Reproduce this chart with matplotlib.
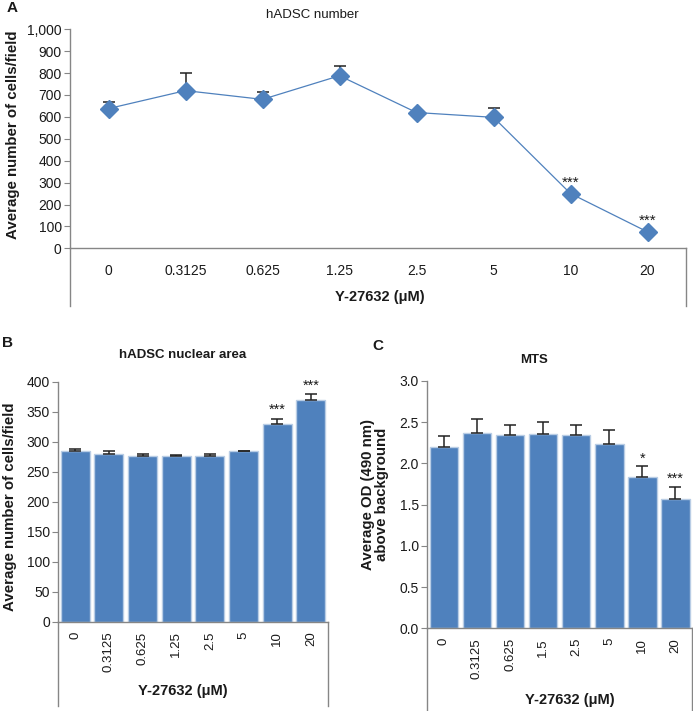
import numpy as np
import matplotlib
matplotlib.use("Agg")
import matplotlib.pyplot as plt
from matplotlib.ticker import FuncFormatter

plt.rcParams["font.family"] = ["Liberation Sans", "DejaVu Sans"]

# Panel A - hADSC number (line)
conc_a = ["0", "0.3125", "0.625", "1.25", "2.5", "5", "10", "20"]
cells_a = [638, 720, 680, 788, 620, 598, 250, 75]
err_a = [32, 80, 32, 44, 8, 44, 6, 6]
stars_a = ["", "", "", "", "", "", "***", "***"]

# Panel B - hADSC nuclear area (bars)
conc_b = ["0", "0.3125", "0.625", "1.25", "2.5", "5", "10", "20"]
area_b = [284, 279, 277, 275.5, 277, 284, 329, 369]
err_b = [4, 5, 3, 2.5, 3, 1, 9, 10]
stars_b = ["", "", "", "", "", "", "***", "***"]

# Panel C - MTS (bars)
conc_c = ["0", "0.3125", "0.625", "1.5", "2.5", "5", "10", "20"]
od_c = [2.20, 2.37, 2.35, 2.36, 2.34, 2.24, 1.83, 1.57]
err_c = [0.13, 0.17, 0.12, 0.145, 0.13, 0.17, 0.14, 0.15]
stars_c = ["", "", "", "", "", "", "*", "***"]

W, H = 693, 711
blue = "#4F81BD"
edge = "#B9CDE5"
axcol = "#868686"
txt = "#1a1a1a"

fig = plt.figure(figsize=(W / 100, H / 100), dpi=100)


def px(x, y):
    return x / W, 1 - y / H


def style(ax, box_depth):
    for s in ["top", "right"]:
        ax.spines[s].set_visible(False)
    for s in ["left", "bottom"]:
        ax.spines[s].set_color(axcol)
        ax.spines[s].set_linewidth(1.0)
    ax.tick_params(axis="y", direction="out", length=4, color=axcol, labelsize=10, labelcolor=txt, pad=2)
    ax.tick_params(axis="x", length=0, labelcolor=txt)
    # table-like box below the category axis
    for xx in (0, 1):
        ax.plot([xx, xx], [0, -box_depth], transform=ax.transAxes, color=axcol, lw=1.0, clip_on=False)


# ---- A
axA = fig.add_axes([70 / W, 1 - 248.3 / H, 616 / W, 219 / H])
xa = np.arange(len(conc_a))
axA.errorbar(xa, cells_a, yerr=[np.zeros(len(err_a)), err_a], fmt="none", ecolor="#222222",
             elinewidth=1.1, capsize=4.5, capthick=1.1, zorder=2)
axA.plot(xa, cells_a, color=blue, lw=0.9, marker="D", ms=8.8, mfc=blue, mec=blue, zorder=3)
axA.set_xlim(-0.5, 7.5)
axA.set_ylim(0, 1000)
axA.set_yticks(np.arange(0, 1001, 100))
axA.yaxis.set_major_formatter(FuncFormatter(lambda v, p: f"{int(v):,}"))
axA.set_xticks(xa)
axA.set_xticklabels(conc_a, fontsize=10)
axA.tick_params(axis="x", pad=11)
style(axA, (306 - 248.3) / 219)
for x, v, s in zip(xa, cells_a, stars_a):
    if s:
        axA.annotate(s, (x, v), xytext=(0, 5), textcoords="offset points", ha="center",
                     va="baseline", fontsize=11, color=txt)

fig.text(*px(7, 8), "A", fontsize=11, fontweight="bold", ha="left", va="center", color=txt)
fig.text(*px(312, 15), "hADSC number", fontsize=9.5, ha="center", va="center", color=txt)
fig.text(*px(13, 135), "Average number of cells/field", fontsize=10.8, fontweight="bold",
         rotation=90, ha="center", va="center", color=txt)
fig.text(*px(380, 297), "Y-27632 (\u03bcM)", fontsize=10.5, fontweight="bold", ha="center", va="center", color=txt)


def bars(ax, cats, vals, errs, stars, ymax, step, fmt, star_off):
    xb = np.arange(len(cats))
    ax.bar(xb, vals, width=0.86, color=blue, edgecolor=edge, linewidth=1.0, zorder=2)
    ax.errorbar(xb, vals, yerr=[np.zeros(len(errs)), errs], fmt="none", ecolor="#222222",
                elinewidth=1.1, capsize=4, capthick=1.1, zorder=3)
    ax.set_xlim(-0.5, len(cats) - 0.5)
    ax.set_ylim(0, ymax)
    ax.set_yticks(np.arange(0, ymax + step / 2, step))
    ax.yaxis.set_major_formatter(FuncFormatter(fmt))
    ax.set_xticks(xb)
    ax.set_xticklabels(cats, rotation=90, fontsize=9.5)
    ax.tick_params(axis="x", pad=7)
    for x, v, e, s in zip(xb, vals, errs, stars):
        if s:
            ax.annotate(s, (x, v + e), xytext=(0, star_off), textcoords="offset points",
                        ha="center", va="baseline", fontsize=10.5, color=txt)


# ---- B
axB = fig.add_axes([58.3 / W, 1 - 621.7 / H, 269.5 / W, 240 / H])
bars(axB, conc_b, area_b, err_b, stars_b, 400, 50, lambda v, p: f"{int(v)}", 3.5)
style(axB, (706 - 621.7) / 240)
fig.text(*px(2, 343), "B", fontsize=11, fontweight="bold", ha="left", va="center", color=txt)
fig.text(*px(183, 355), "hADSC nuclear area", fontsize=9.5, fontweight="bold", ha="center", va="center", color=txt)
fig.text(*px(10, 507), "Average number of cells/field", fontsize=10.8, fontweight="bold",
         rotation=90, ha="center", va="center", color=txt)
fig.text(*px(183, 691), "Y-27632 (\u03bcM)", fontsize=10.5, fontweight="bold", ha="center", va="center", color=txt)

# ---- C
axC = fig.add_axes([427.3 / W, 1 - 628.3 / H, 264.7 / W, 247.3 / H])
bars(axC, conc_c, od_c, err_c, stars_c, 3.0, 0.5, lambda v, p: f"{v:.1f}", 2.5)
style(axC, (711 - 628.3) / 247.3)
fig.text(*px(372, 346), "C", fontsize=11, fontweight="bold", ha="left", va="center", color=txt)
fig.text(*px(534, 360), "MTS", fontsize=9.5, fontweight="bold", ha="center", va="center", color=txt)
fig.text(*px(375, 494), "Average OD (490 nm)\nabove background", fontsize=10.8, fontweight="bold",
         rotation=90, ha="center", va="center", linespacing=1.0, color=txt)
fig.text(*px(570, 700), "Y-27632 (\u03bcM)", fontsize=10.5, fontweight="bold", ha="center", va="center", color=txt)

fig.savefig("out.png", dpi=100)
